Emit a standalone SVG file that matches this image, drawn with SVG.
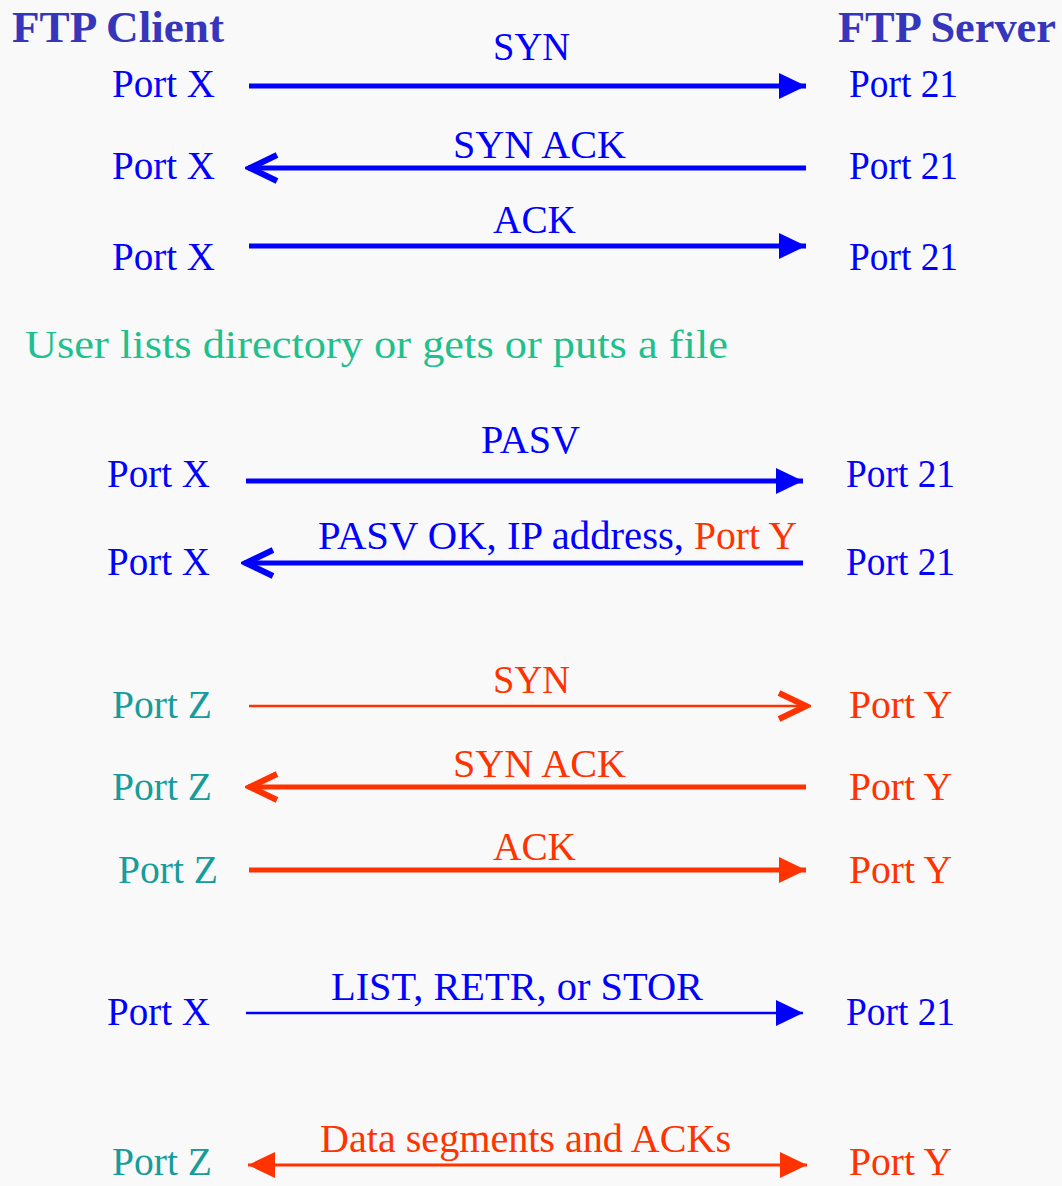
<svg xmlns="http://www.w3.org/2000/svg" width="1062" height="1186" viewBox="0 0 1062 1186">
<defs>
<style>
text{font-family:"Liberation Serif","Times New Roman",serif;font-size:40px}
.hd{font-weight:bold;font-size:44px;fill:#3636bd}
.b{fill:#0000ff}
.r{fill:#ff3300}
.t{fill:#169c9c}
.g{fill:#1ec08c}
.lb{stroke:#0000ff;fill:none}
.lr{stroke:#ff3300;fill:none}
</style>
<marker id="triB" markerUnits="userSpaceOnUse" markerWidth="28" markerHeight="28" refX="27" refY="13" orient="auto-start-reverse"><path d="M0,0 L27,13 L0,26 z" fill="#0000ff"/></marker>
<marker id="triR" markerUnits="userSpaceOnUse" markerWidth="28" markerHeight="28" refX="27" refY="13" orient="auto-start-reverse"><path d="M0,0 L27,13 L0,26 z" fill="#ff3300"/></marker>
<marker id="chevB" markerUnits="userSpaceOnUse" markerWidth="36" markerHeight="34" refX="33" refY="16" orient="auto"><path d="M4,3 L31,16 L4,29" fill="none" stroke="#0000ff" stroke-width="6" stroke-linejoin="miter"/></marker>
<marker id="chevR" markerUnits="userSpaceOnUse" markerWidth="36" markerHeight="34" refX="33" refY="16" orient="auto"><path d="M4,3 L31,16 L4,29" fill="none" stroke="#ff3300" stroke-width="6" stroke-linejoin="miter"/></marker>
</defs>
<rect width="1062" height="1186" fill="#f9f9f9"/>

<g id="headers">
<text id="client-header" class="hd" x="12" y="42" textLength="212" lengthAdjust="spacingAndGlyphs">FTP Client</text>
<text id="server-header" class="hd" x="838" y="42" textLength="218" lengthAdjust="spacingAndGlyphs">FTP Server</text>
</g>

<g id="connectors">
<line class="lb" x1="249" y1="86" x2="806" y2="86" stroke-width="5" marker-end="url(#triB)"/>
<line class="lb" x1="806" y1="168" x2="248" y2="168" stroke-width="5" marker-end="url(#chevB)"/>
<line class="lb" x1="249" y1="246" x2="806" y2="246" stroke-width="5" marker-end="url(#triB)"/>
<line class="lb" x1="246" y1="481" x2="803" y2="481" stroke-width="5" marker-end="url(#triB)"/>
<line class="lb" x1="803" y1="563" x2="244" y2="563" stroke-width="5" marker-end="url(#chevB)"/>
<line class="lr" x1="249" y1="706" x2="808" y2="706" stroke-width="2.5" marker-end="url(#chevR)"/>
<line class="lr" x1="806" y1="787" x2="248" y2="787" stroke-width="5" marker-end="url(#chevR)"/>
<line class="lr" x1="249" y1="870" x2="806" y2="870" stroke-width="5" marker-end="url(#triR)"/>
<line class="lb" x1="246" y1="1013" x2="803" y2="1013" stroke-width="2.5" marker-end="url(#triB)"/>
<line class="lr" x1="248" y1="1165" x2="807" y2="1165" stroke-width="3" marker-start="url(#triR)" marker-end="url(#triR)"/>
</g>

<g id="row1">
<text class="b" x="112" y="97" textLength="103" lengthAdjust="spacingAndGlyphs">Port X</text>
<text class="b" x="493" y="60" textLength="77" lengthAdjust="spacingAndGlyphs">SYN</text>
<text class="b" x="849" y="97" textLength="109" lengthAdjust="spacingAndGlyphs">Port 21</text>
</g>
<g id="row2">
<text class="b" x="112" y="179" textLength="103" lengthAdjust="spacingAndGlyphs">Port X</text>
<text class="b" x="453" y="158" textLength="173" lengthAdjust="spacingAndGlyphs">SYN ACK</text>
<text class="b" x="849" y="179" textLength="109" lengthAdjust="spacingAndGlyphs">Port 21</text>
</g>
<g id="row3">
<text class="b" x="112" y="270" textLength="103" lengthAdjust="spacingAndGlyphs">Port X</text>
<text class="b" x="493" y="233" textLength="83" lengthAdjust="spacingAndGlyphs">ACK</text>
<text class="b" x="849" y="270" textLength="109" lengthAdjust="spacingAndGlyphs">Port 21</text>
</g>

<g id="note">
<text class="g" x="25" y="358" textLength="703" lengthAdjust="spacingAndGlyphs">User lists directory or gets or puts a file</text>
</g>

<g id="row4">
<text class="b" x="107" y="487" textLength="103" lengthAdjust="spacingAndGlyphs">Port X</text>
<text class="b" x="481" y="453" textLength="99" lengthAdjust="spacingAndGlyphs">PASV</text>
<text class="b" x="846" y="487" textLength="109" lengthAdjust="spacingAndGlyphs">Port 21</text>
</g>
<g id="row5">
<text class="b" x="107" y="575" textLength="103" lengthAdjust="spacingAndGlyphs">Port X</text>
<text class="b" x="318" y="549" textLength="366" lengthAdjust="spacingAndGlyphs">PASV OK, IP address,</text>
<text class="r" x="694" y="549" textLength="103" lengthAdjust="spacingAndGlyphs">Port Y</text>
<text class="b" x="846" y="575" textLength="109" lengthAdjust="spacingAndGlyphs">Port 21</text>
</g>

<g id="row6">
<text class="t" x="112" y="718" textLength="100" lengthAdjust="spacingAndGlyphs">Port Z</text>
<text class="r" x="493" y="693" textLength="77" lengthAdjust="spacingAndGlyphs">SYN</text>
<text class="r" x="849" y="718" textLength="103" lengthAdjust="spacingAndGlyphs">Port Y</text>
</g>
<g id="row7">
<text class="t" x="112" y="800" textLength="100" lengthAdjust="spacingAndGlyphs">Port Z</text>
<text class="r" x="453" y="777" textLength="173" lengthAdjust="spacingAndGlyphs">SYN ACK</text>
<text class="r" x="849" y="800" textLength="103" lengthAdjust="spacingAndGlyphs">Port Y</text>
</g>
<g id="row8">
<text class="t" x="118" y="883" textLength="100" lengthAdjust="spacingAndGlyphs">Port Z</text>
<text class="r" x="493" y="860" textLength="83" lengthAdjust="spacingAndGlyphs">ACK</text>
<text class="r" x="849" y="883" textLength="103" lengthAdjust="spacingAndGlyphs">Port Y</text>
</g>
<g id="row9">
<text class="b" x="107" y="1025" textLength="103" lengthAdjust="spacingAndGlyphs">Port X</text>
<text class="b" x="331" y="1000" textLength="372" lengthAdjust="spacingAndGlyphs">LIST, RETR, or STOR</text>
<text class="b" x="846" y="1025" textLength="109" lengthAdjust="spacingAndGlyphs">Port 21</text>
</g>
<g id="row10">
<text class="t" x="112" y="1175" textLength="100" lengthAdjust="spacingAndGlyphs">Port Z</text>
<text class="r" x="320" y="1152" textLength="411" lengthAdjust="spacingAndGlyphs">Data segments and ACKs</text>
<text class="r" x="849" y="1175" textLength="103" lengthAdjust="spacingAndGlyphs">Port Y</text>
</g>
</svg>
